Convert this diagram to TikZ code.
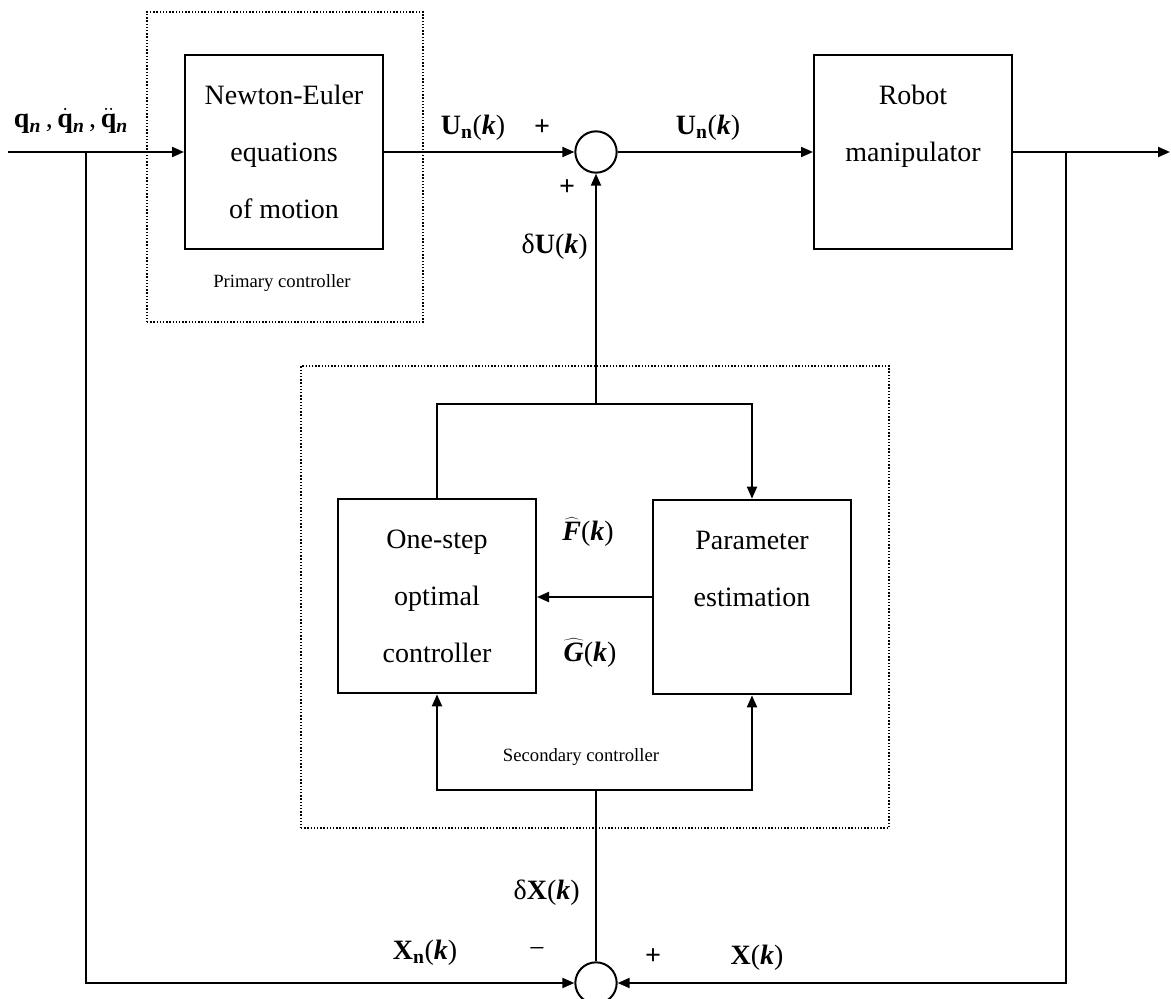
\documentclass[tikz,border=0pt]{standalone}
\usepackage{fontspec}
\setmainfont{Liberation Serif}
\usetikzlibrary{arrows.meta}
\newcommand\myUn{\textbf{U}\textsubscript{\textbf{n}}(\textbf{\textit{k}})}
\newcommand\myk{(\textbf{\textit{k}})}
\newcommand\myqn{\textsubscript{\textbf{\textit{n}}}}
\newcommand\myhat[1]{$\widehat{\vphantom{T}\hbox{\bfseries\itshape #1}}$}
\begin{document}
\begin{tikzpicture}[x=0.75pt,y=-0.75pt,
  blk/.style={draw,line width=1.5pt,minimum width=148.5pt,minimum height=146pt,inner sep=0pt,align=center,font=\fontsize{21}{42.75}\selectfont},
  grp/.style={draw,line width=1.1pt,dash pattern=on 1.1pt off 1.3pt,inner sep=0pt},
  sumj/.style={draw,circle,line width=1.5pt,minimum size=31pt,inner sep=0pt},
  lbl/.style={font=\fontsize{21}{25}\selectfont,inner sep=0pt},
  small/.style={font=\fontsize{14}{16}\selectfont,inner sep=0pt},
  conn/.style={line width=1.5pt},
  arr/.style={conn,-{Triangle[length=9pt,width=7.5pt]}},
]
\useasboundingbox (0,0) rectangle (1171,999);

% group frames
\node[grp,minimum width=207pt,minimum height=232.5pt] (prim) at (285,167) {};
\node[grp,minimum width=441pt,minimum height=346.5pt] (sec) at (595,597) {};

% blocks
\node[blk] (ne) at (284,152) {Newton-Euler\\equations\\of motion};
\node[sumj] (s1) at (596,152) {};
\node[blk] (rob) at (913,152) {Robot\\manipulator\\\mbox{}};
\node[blk] (osc) at (437,596) {One-step\\optimal\\controller};
\node[blk] (pe) at (752,597) {Parameter\\estimation\\\mbox{}};
\node[sumj] (s2) at (596,983) {};

% coordinates
\coordinate (in) at (8,152);
\coordinate (b1) at (86,152);
\coordinate (b2) at (1066,152);
\coordinate (out) at (1170,152);
\coordinate (jt) at (596,404);
\coordinate (jb) at (596,790);

% connectors
\draw[arr] (in) -- (ne.west);
\draw[arr] (ne.east) -- (s1.west);
\draw[arr] (s1.east) -- (rob.west);
\draw[arr] (rob.east) -- (out);
\draw[arr] (jt) -- (s1.south);
\draw[arr] (osc.north) |- (jt) -| (pe.north);
\draw[arr] (pe.west) -- (osc.east |- pe.west);
\draw[arr] (jb) -| (osc.south);
\draw[arr] (jb) -| (pe.south);
\draw[conn] (s2.north) -- (jb);
\draw[arr] (b1) |- (s2.west);
\draw[arr] (b2) |- (s2.east);

% labels
\node[lbl] (lq) at (71,121) {\textbf{q}\myqn\,,\,$\dot{\hbox{\bfseries q}}$\myqn\,,\,$\ddot{\hbox{\bfseries q}}$\myqn};
\node[lbl] (lun1) at (473,128) {\myUn};
\node[lbl] (lp1) at (542,128) {\textbf{+}};
\node[lbl] (lun2) at (708,128) {\myUn};
\node[lbl] (lp2) at (567,188) {\textbf{+}};
\node[lbl,anchor=east] (ldu) at (588,247) {δ\textbf{U}\myk};
\node[lbl] (lf) at (588,532) {\myhat{F}\myk};
\node[lbl] (lg) at (590,653) {\myhat{G}\myk};
\node[small] (lprim) at (282,283) {Primary controller};
\node[small] (lsec) at (581,757) {Secondary controller};
\node[lbl,anchor=east] (ldx) at (580,893) {δ\textbf{X}\myk};
\node[lbl] (lxn) at (425,953) {\textbf{X}\textsubscript{\textbf{n}}\myk};
\node[lbl] (lm) at (537,952) {−};
\node[lbl] (lp3) at (653,957) {\textbf{+}};
\node[lbl] (lx) at (757,958) {\textbf{X}\myk};
\end{tikzpicture}
\end{document}
